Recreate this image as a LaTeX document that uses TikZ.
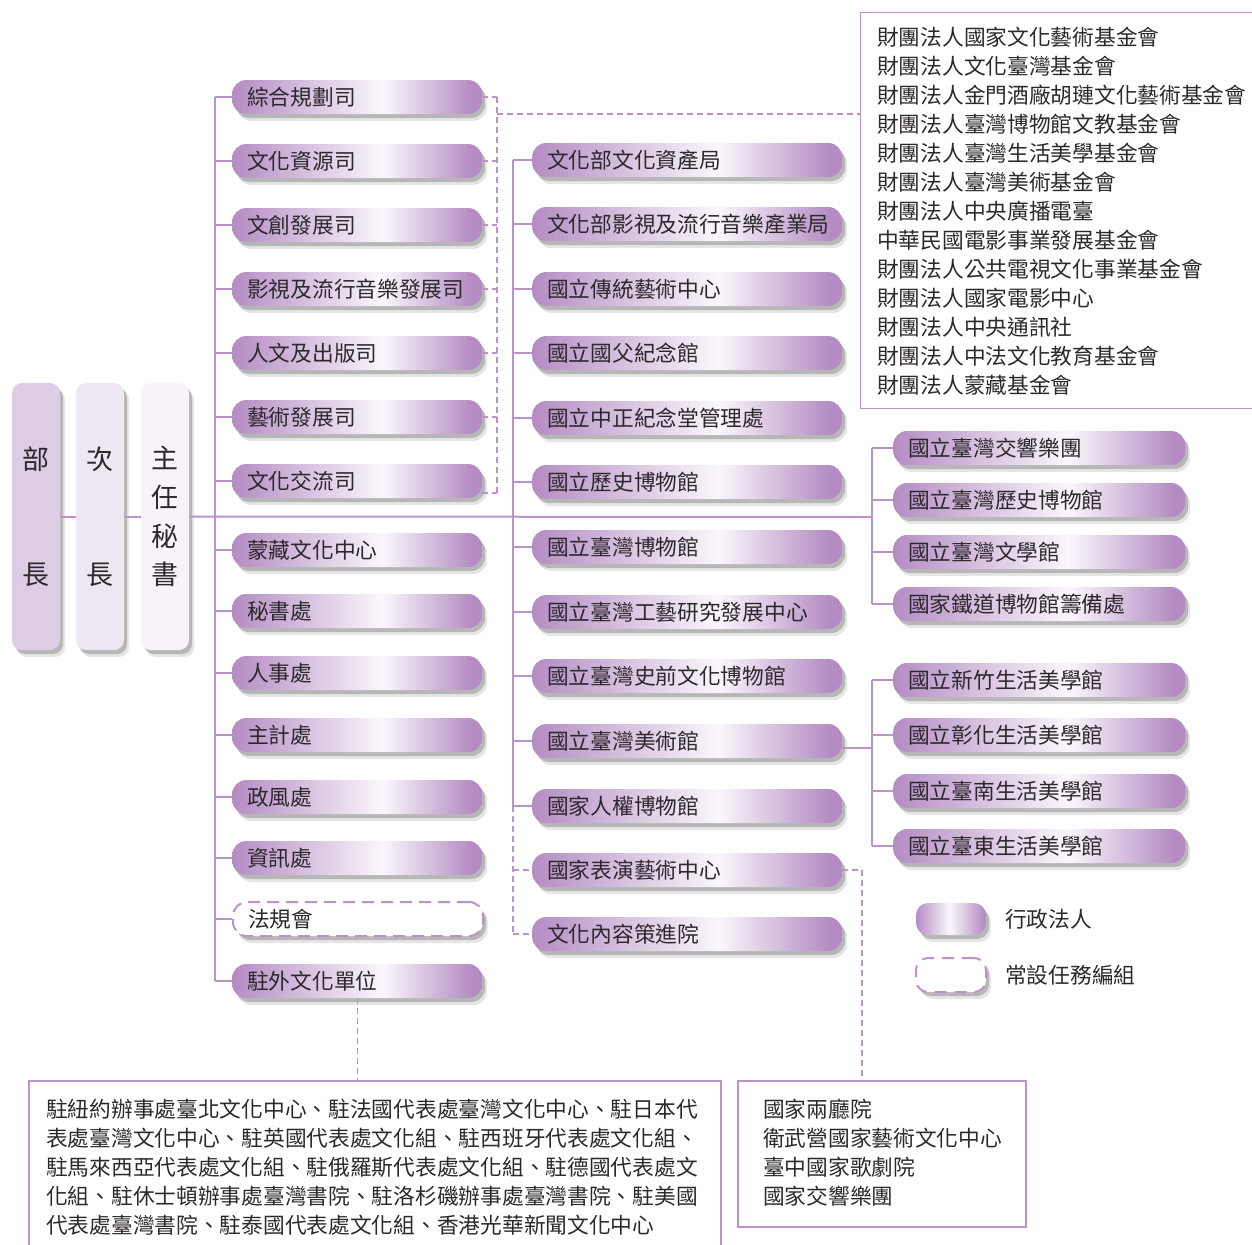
\documentclass[tikz,border=0pt]{standalone}
\usepackage{fontspec}
\setmainfont{Noto Sans CJK TC}
\usetikzlibrary{shadows,calc}
\definecolor{pu}{RGB}{180,140,195}
\definecolor{pl}{RGB}{250,247,251}
\definecolor{ln}{RGB}{186,148,200}
\definecolor{tx}{RGB}{45,40,45}
\definecolor{vA}{RGB}{220,205,228}
\definecolor{vB}{RGB}{238,230,241}
\definecolor{vC}{RGB}{247,243,248}
\pgfdeclarehorizontalshading{boxshade}{100bp}{color(0bp)=(pu); color(25bp)=(pu); color(55bp)=(pl); color(73bp)=(pu); color(100bp)=(pu)}
\pgfdeclarehorizontalshading{legshade}{100bp}{color(0bp)=(pu); color(25bp)=(pu); color(49bp)=(pl); color(74bp)=(pu); color(100bp)=(pu)}
\tikzset{
  shd/.style={drop shadow={shadow xshift=3bp,shadow yshift=-4bp,opacity=.2,fill=black},
              drop shadow={shadow xshift=5bp,shadow yshift=-7bp,opacity=.1,fill=black}},
  geo/.style={rectangle, rounded corners=14bp, shd, minimum height=34bp, inner xsep=15bp,
              inner ysep=0pt, anchor=west, align=left, text=tx, font=\fontsize{21.8}{26}\selectfont},
  org/.style={geo, shade, shading=boxshade},
  dorg/.style={geo, fill=white, draw=ln, line width=2bp, dash pattern=on 12bp off 7bp},
  col1/.style={org, text width=220bp},
  col2/.style={org, text width=280bp},
  col3/.style={org, text width=262bp},
  conn/.style={draw=ln, line width=2bp},
  dconn/.style={draw=ln, line width=1.3bp, dash pattern=on 6bp off 4bp},
  lbl/.style={anchor=west, inner sep=0pt, text=tx, font=\fontsize{21.8}{26}\selectfont},
  vbox/.style={rectangle, rounded corners=10bp, minimum width=48bp, minimum height=267bp,
               shd, text=tx, align=center, inner sep=0pt},
  frame/.style={rectangle, draw=ln, anchor=north west, inner sep=0pt},
}
\begin{document}
\begin{tikzpicture}[x=1bp,y=-1bp]
\useasboundingbox (0,0) rectangle (1252,1245);

% head boxes
\node[vbox, fill=vA, font=\fontsize{27}{115}\selectfont] (bu) at (36,516.5) {部\\長};
\node[vbox, fill=vB, font=\fontsize{27}{115}\selectfont] (ci) at (100,516.5) {次\\長};
\node[vbox, fill=vC, font=\fontsize{27}{39}\selectfont] (zr) at (165,516.5) {主\\任\\秘\\書};

% column 1
\foreach \n/\y/\t in {a1/97/綜合規劃司, a2/161/文化資源司, a3/225/文創發展司,
  a4/289/影視及流行音樂發展司, a5/353/人文及出版司, a6/417/藝術發展司, a7/481/文化交流司,
  a8/550/蒙藏文化中心, a9/611/秘書處, a10/673/人事處, a11/735/主計處, a12/797/政風處,
  a13/858/資訊處, a15/981/駐外文化單位}
  \node[col1] (\n) at (232,\y) {\t};
\node[dorg, text width=220bp] (a14) at (232,919) {法規會};

% column 2
\foreach \n/\y/\t in {m1/160/文化部文化資產局, m2/224/文化部影視及流行音樂產業局,
  m3/289/國立傳統藝術中心, m4/353/國立國父紀念館, m5/418/國立中正紀念堂管理處,
  m6/482/國立歷史博物館, m7/547/國立臺灣博物館, m8/612/國立臺灣工藝研究發展中心,
  m9/676/國立臺灣史前文化博物館, m10/741/國立臺灣美術館, m11/806/國家人權博物館,
  m12/870/國家表演藝術中心, m13/934/文化內容策進院}
  \node[col2] (\n) at (532,\y) {\t};

% column 3
\foreach \n/\y/\t in {r1/448/國立臺灣交響樂團, r2/500/國立臺灣歷史博物館,
  r3/552/國立臺灣文學館, r4/604/國家鐵道博物館籌備處,
  s1/680/國立新竹生活美學館, s2/735/國立彰化生活美學館,
  s3/791/國立臺南生活美學館, s4/846/國立臺東生活美學館}
  \node[col3] (\n) at (893,\y) {\t};

% foundations box
\node[frame, line width=1.2bp, minimum width=400bp, minimum height=396bp] (fd) at (860,12) {};
\foreach \t [count=\i from 0] in {財團法人國家文化藝術基金會, 財團法人文化臺灣基金會,
  財團法人金門酒廠胡璉文化藝術基金會, 財團法人臺灣博物館文教基金會,
  財團法人臺灣生活美學基金會, 財團法人臺灣美術基金會, 財團法人中央廣播電臺,
  中華民國電影事業發展基金會, 財團法人公共電視文化事業基金會, 財團法人國家電影中心,
  財團法人中央通訊社, 財團法人中法文化教育基金會, 財團法人蒙藏基金會}
  \node[lbl] (f\i) at (877,{37+29*\i}) {\t};

% bottom boxes
\node[frame, line width=2bp, minimum width=692bp, minimum height=200bp] (bl) at (28,1080) {};
\foreach \t [count=\i from 0] in {駐紐約辦事處臺北文化中心、駐法國代表處臺灣文化中心、駐日本代,
  表處臺灣文化中心、駐英國代表處文化組、駐西班牙代表處文化組、,
  駐馬來西亞代表處文化組、駐俄羅斯代表處文化組、駐德國代表處文,
  化組、駐休士頓辦事處臺灣書院、駐洛杉磯辦事處臺灣書院、駐美國,
  代表處臺灣書院、駐泰國代表處文化組、香港光華新聞文化中心}
  \node[lbl] (b\i) at (46,{1109+29*\i}) {\t};
\node[frame, line width=2bp, minimum width=288bp, minimum height=146bp] (br) at (737,1080) {};
\foreach \t [count=\i from 0] in {國家兩廳院, 衛武營國家藝術文化中心, 臺中國家歌劇院, 國家交響樂團}
  \node[lbl] (c\i) at (763,{1109+29*\i}) {\t};

% legend
\node[rectangle, rounded corners=12bp, shade, shading=legshade, shd, minimum width=70bp,
      minimum height=32bp] (lg1) at (951,919) {};
\node[lbl] (lt1) at (1005,919) {行政法人};
\node[rectangle, rounded corners=12bp, fill=white, draw=ln, line width=2bp,
      dash pattern=on 12bp off 8bp, shd, minimum width=70bp, minimum height=34bp] (lg2) at (951,975) {};
\node[lbl] (lt2) at (1005,975) {常設任務編組};

% coordinates for trunks
\coordinate (v1) at (215,0);
\coordinate (v2) at (513,0);
\coordinate (v3) at (872,0);
\coordinate (v4) at (497,0);
\coordinate (g1) at (872,517);
\coordinate (j2) at (872,748);
\coordinate (h) at (497,114);
\coordinate (kx) at (862,0);

% solid connectors
\draw[conn] (bu.east) -- (ci.west);
\draw[conn] (ci.east) -- (zr.west);
\draw[conn] (zr.east) -- (g1);
\draw[conn] (a1.west -| v1) -- (a15.west -| v1);
\foreach \n in {a1,a2,a3,a4,a5,a6,a7,a8,a9,a10,a11,a12,a13,a14,a15}
  \draw[conn] (\n.west -| v1) -- (\n.west);
\draw[conn] (m1.west -| v2) -- (m11.west -| v2);
\foreach \n in {m1,m2,m3,m4,m5,m6,m7,m8,m9,m10,m11}
  \draw[conn] (\n.west -| v2) -- (\n.west);
\draw[conn] (r1.west -| v3) -- (r4.west -| v3);
\draw[conn] (s1.west -| v3) -- (s4.west -| v3);
\foreach \n in {r1,r2,r3,r4,s1,s2,s3,s4}
  \draw[conn] (\n.west -| v3) -- (\n.west);
\draw[conn] (j2 -| m10.east) -- (j2);

% dashed connectors
\draw[dconn] (m11.west -| v2) -- (m13.west -| v2);
\foreach \n in {m12,m13}
  \draw[dconn] (\n.west -| v2) -- (\n.west);
\foreach \n in {a1,a2,a3,a4,a5,a6}
  \draw[dconn] (\n.east) -- (\n.east -| v4);
\coordinate (a7d) at ($(a7.east)+(0,12)$);
\draw[dconn] (a7d) -- (a7d -| v4);
\draw[dconn] (a1.east -| v4) -- (a7d -| v4);
\draw[dconn] (h) -- (h -| fd.west);
\draw[dconn] (a15.south) -- (a15.south |- bl.north);
\draw[dconn] (m12.east) -- (m12.east -| kx) -- (kx |- br.north);
\end{tikzpicture}
\end{document}
